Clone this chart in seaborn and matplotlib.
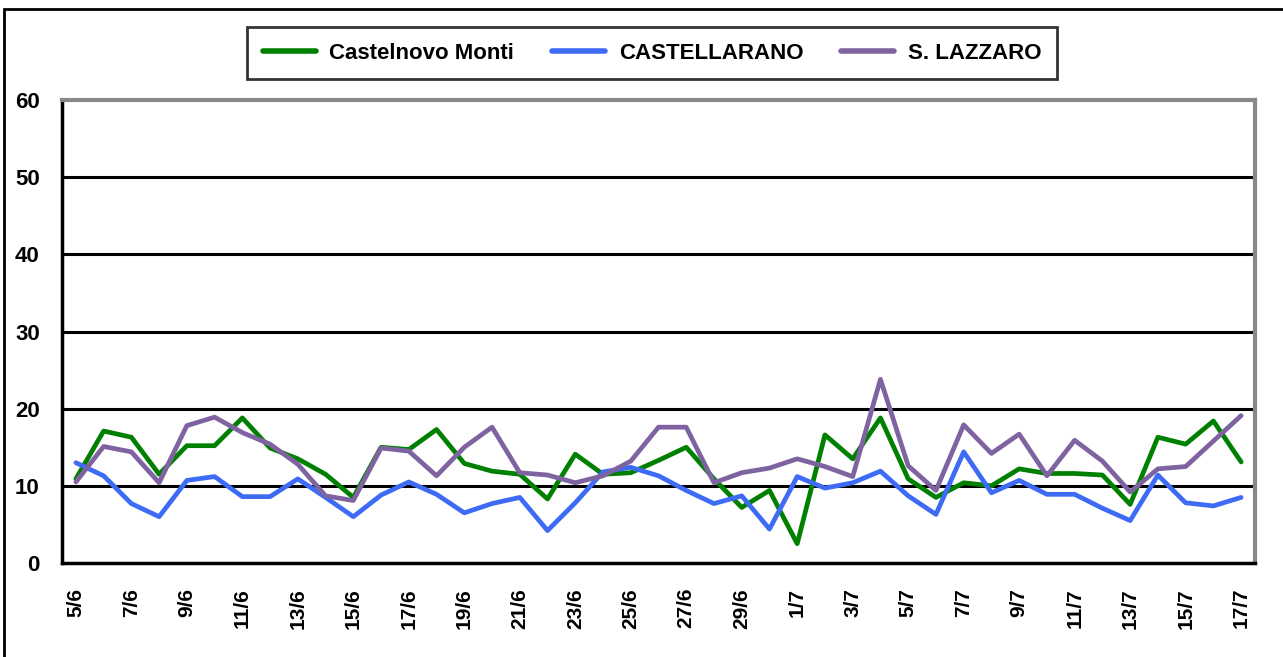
import numpy as np
import pandas as pd
import matplotlib
matplotlib.use('Agg')
import matplotlib.pyplot as plt
import seaborn as sns
from matplotlib.patches import Rectangle

# Dates 5/6 .. 17/7 (one point per day)
dates = [f'{d}/6' for d in range(5, 31)] + [f'{d}/7' for d in range(1, 18)]

castelnovo = [10.9, 17.1, 16.3, 11.5, 15.2, 15.2, 18.8, 14.9, 13.5, 11.5,
              8.5, 15.0, 14.7, 17.3, 12.9, 11.9, 11.5, 8.3, 14.1, 11.5,
              11.7, 13.3, 15.0, 10.9, 7.2, 9.4, 2.5, 16.6, 13.5, 18.8,
              10.9, 8.5, 10.4, 10.0, 12.2, 11.6, 11.6, 11.4, 7.6, 16.3,
              15.4, 18.4, 13.1]
castellarano = [13.0, 11.3, 7.7, 6.0, 10.7, 11.2, 8.6, 8.6, 10.9, 8.5,
                6.0, 8.8, 10.5, 8.9, 6.5, 7.7, 8.5, 4.2, 7.8, 11.8,
                12.4, 11.3, 9.4, 7.7, 8.7, 4.4, 11.2, 9.7, 10.4, 11.9,
                8.7, 6.3, 14.4, 9.1, 10.7, 8.9, 8.9, 7.1, 5.5, 11.4,
                7.8, 7.4, 8.5]
lazzaro = [10.5, 15.1, 14.4, 10.4, 17.8, 18.9, 16.9, 15.4, 12.8, 8.7,
           8.1, 14.9, 14.5, 11.3, 15.0, 17.6, 11.7, 11.4, 10.4, 11.3,
           13.2, 17.6, 17.6, 10.4, 11.7, 12.3, 13.5, 12.5, 11.2, 23.8,
           12.6, 9.4, 17.9, 14.2, 16.7, 11.3, 15.9, 13.2, 9.2, 12.2,
           12.5, 15.8, 19.1]

series_names = ['Castelnovo Monti', 'CASTELLARANO', 'S. LAZZARO']
colors = {'Castelnovo Monti': '#008000',
          'CASTELLARANO': '#3D6BF5',
          'S. LAZZARO': '#7F63A1'}

df = pd.DataFrame({
    'idx': list(range(len(dates))) * 3,
    'value': castelnovo + castellarano + lazzaro,
    'station': [n for n, s in zip(series_names, [castelnovo, castellarano, lazzaro]) for _ in s],
})

sns.set_style('white')
plt.rcParams['font.family'] = ['Liberation Sans', 'DejaVu Sans']
plt.rcParams['font.weight'] = 'bold'
plt.rcParams['text.color'] = 'black'
plt.rcParams['xtick.color'] = 'black'
plt.rcParams['ytick.color'] = 'black'

W, H = 1283, 657
fig = plt.figure(figsize=(W / 100, H / 100), dpi=100)
ax = fig.add_axes([62 / W, 1 - 563 / H, (1255 - 62) / W, (563 - 100) / H])

# gridlines
for yv in [10, 20, 30, 40, 50]:
    ax.axhline(yv, color='black', linewidth=2.2, zorder=1)

sns.lineplot(data=df, x='idx', y='value', hue='station', hue_order=series_names,
             palette=colors, linewidth=3.4, ax=ax, legend=True, zorder=3)

n = len(dates)
ax.set_xlim(-0.5, n - 0.5)
ax.set_ylim(0, 60)
ax.set_yticks(range(0, 61, 10))
ax.set_yticklabels([str(v) for v in range(0, 61, 10)], fontsize=16, fontweight='bold')

label_idx = list(range(0, n, 2))
ax.set_xticks(label_idx)
ax.set_xticklabels([dates[i] for i in label_idx], rotation=90, fontsize=15,
                   fontweight='bold', va='top', ha='center')
ax.tick_params(axis='x', length=0, pad=18)
ax.set_xticks([i - 0.5 for i in label_idx], minor=True)
ax.tick_params(axis='x', which='minor', length=5, width=2.2, color='black', direction='out')
ax.tick_params(axis='y', length=6, width=2.2, color='black', direction='out', pad=10)
ax.set_xlabel('')
ax.set_ylabel('')

for side in ['left', 'bottom']:
    ax.spines[side].set_color('black')
    ax.spines[side].set_linewidth(2.5)
for side in ['top', 'right']:
    ax.spines[side].set_color('#888888')
    ax.spines[side].set_linewidth(3)
    ax.spines[side].set_visible(True)

# legend
handles, labels = ax.get_legend_handles_labels()
ax.legend_.remove()
leg = fig.legend(handles, labels, ncol=3, loc='upper center',
                 bbox_to_anchor=(652 / W, 1 - 27 / H),
                 prop={'weight': 'bold', 'size': 16},
                 frameon=True, fancybox=False, edgecolor='black',
                 handlelength=2.4, handletextpad=0.6, columnspacing=1.7,
                 borderpad=0.7, borderaxespad=0)
leg.get_frame().set_linewidth(2)
for line in leg.get_lines():
    line.set_linewidth(4)
for t in leg.get_texts():
    t.set_color('black')

# outer chart border
fig.patches.append(Rectangle((4 / W, -0.2), 1.2, 1.2 - 9 / H, transform=fig.transFigure,
                             fill=False, edgecolor='black', linewidth=2))

fig.savefig('out.png', dpi=100)
